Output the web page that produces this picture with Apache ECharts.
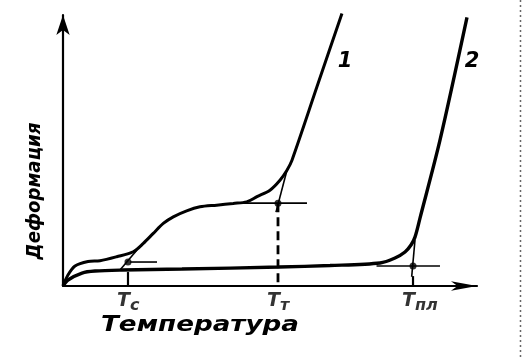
<!DOCTYPE html>
<html><head><meta charset="utf-8">
<script src="https://cdn.jsdelivr.net/npm/echarts@6/dist/echarts.min.js"></script>
<style>html,body{margin:0;padding:0;background:#fff}#c{width:522px;height:358px}</style>
</head><body><div id="c"></div>
<script>
// ---- data (arbitrary units: temperature 0..103, deformation 0..104) ----
const curve1 = [[0,0],[1.24,4.21],[2.99,7.66],[6.22,9.39],[9.2,9.69],[13.36,11.23],[17.49,13.14],[19.98,16.36],[22.46,20.19],[24.95,24.02],[27.44,26.55],[30.77,28.85],[34.08,30.38],[38.23,31.03],[42.36,31.69],[45.7,32.3],[48.26,34.29],[51.49,36.78],[53.98,40.61],[55.72,44.44],[56.97,48.28],[63.18,76.44],[69.4,104.6]];
const curve2 = [[0,0],[1.24,2.3],[4.73,4.98],[7.96,5.75],[14.68,6.13],[29.6,6.51],[53.73,7.28],[66.42,7.85],[78.87,8.81],[82.6,10.73],[85.09,13.03],[86.58,15.71],[87.57,18.77],[88.82,26.05],[93.79,55.94],[100.51,103.07]];
const curveNames = ['1', '2'];
const tickValues = [16.17, 53.49, 87.08];
const tickSubs = ['с', 'т', 'пл'];
const tickLevels = [9.2, 31.8, 7.66];
const levelSpans = [[16.67, 23.39], [44.04, 60.7], [78.0, 93.79]];
const tangentLines = [[[14.18, 6.13], [18.41, 13.8]], [[52.99, 28.35], [55.72, 44.44]], [[86.75, 3.56], [87.57, 17.62]]];
const tickFoot = [5.36, null, 3.8];
const xTitle = 'Температура';
const yTitle = 'Деформация';

const FONT = '"DejaVu Sans", sans-serif';
const chart = echarts.init(document.getElementById('c'), null, {renderer: 'canvas'});

function measure(text, font) {
  const c = document.createElement('canvas').getContext('2d');
  c.font = font;
  return c.measureText(text).width;
}

const series = [];
series.push({type: 'line', data: curve1, showSymbol: false, smooth: 0.3, clip: false, lineStyle: {color: '#000', width: 3}, z: 5});
series.push({type: 'line', data: curve2, showSymbol: false, smooth: 0.3, clip: false, lineStyle: {color: '#000', width: 3.4}, z: 5});
for (let i = 0; i < tickValues.length; i++) {
  series.push({type: 'line', data: [[levelSpans[i][0], tickLevels[i]], [levelSpans[i][1], tickLevels[i]]], showSymbol: false, clip: false, lineStyle: {color: '#000', width: 1.6}});
  series.push({type: 'line', data: tangentLines[i], showSymbol: false, clip: false, lineStyle: {color: '#000', width: 1.6}});
  if (tickFoot[i] === null) {
    series.push({type: 'line', data: [[tickValues[i], tickLevels[i]], [tickValues[i], 0]], showSymbol: false, clip: false, lineStyle: {color: '#000', width: 2.8, type: [9, 5]}});
  } else {
    series.push({type: 'line', data: [[tickValues[i], tickFoot[i]], [tickValues[i], 0]], showSymbol: false, clip: false, lineStyle: {color: '#000', width: 2.2}});
  }
}
series.push({type: 'scatter', data: tickValues.map((v, i) => [v, tickLevels[i]]), symbol: 'circle', symbolSize: 7, itemStyle: {color: '#000'}, z: 6});
series.push({
  type: 'scatter', data: tickValues.map((v, i) => ({value: [v, 0], sub: tickSubs[i]})), symbolSize: 0, silent: true,
  label: {
    show: true, position: 'inside', align: 'left', verticalAlign: 'top', offset: [-11, 6],
    formatter: p => '{t|T}{s|' + p.data.sub + '}',
    rich: {
      t: {fontFamily: FONT, fontStyle: 'italic', fontWeight: 'bold', fontSize: 19, color: '#000', lineHeight: 20, verticalAlign: 'top'},
      s: {fontFamily: FONT, fontStyle: 'italic', fontWeight: 'bold', fontSize: 16, color: '#000', lineHeight: 17, padding: [6, 0, 0, 0], verticalAlign: 'top'}
    }
  }
});

const xFont = 'italic bold 21px "DejaVu Sans"';
const yFont = 'italic bold 20px "DejaVu Sans"';
const xScale = 198 / measure(xTitle, xFont);
const yScale = 137 / measure(yTitle, yFont);

chart.setOption({
  animation: false,
  backgroundColor: '#fff',
  grid: {left: 63, right: 45, top: 15, bottom: 72},
  xAxis: {type: 'value', min: 0, max: 103, splitLine: {show: false}, axisTick: {show: false}, axisLabel: {show: false},
    axisLine: {lineStyle: {color: '#000', width: 2.2}, symbol: ['none', 'arrow'], symbolSize: [7, 26]}},
  yAxis: {type: 'value', min: 0, max: 104, splitLine: {show: false}, axisTick: {show: false}, axisLabel: {show: false},
    axisLine: {lineStyle: {color: '#000', width: 2.2}, symbol: ['none', 'arrow'], symbolSize: [10, 20]}},
  series: series,
  graphic: [
    {type: 'text', x: 101, y: 326, scaleX: xScale, style: {text: xTitle, font: xFont, fill: '#000', align: 'left', verticalAlign: 'middle'}},
    {type: 'text', x: 35, y: 191, rotation: Math.PI / 2, scaleX: yScale, style: {text: yTitle, font: yFont, fill: '#000', align: 'center', verticalAlign: 'middle'}},
    {type: 'text', x: 345, y: 62, style: {text: curveNames[0], font: 'italic bold 21px "DejaVu Sans"', fill: '#000', align: 'center', verticalAlign: 'middle'}},
    {type: 'text', x: 472, y: 62, style: {text: curveNames[1], font: 'italic bold 21px "DejaVu Sans"', fill: '#000', align: 'center', verticalAlign: 'middle'}},
    {type: 'line', shape: {x1: 520.5, y1: 0, x2: 520.5, y2: 358}, style: {stroke: '#666', lineWidth: 1.5, lineDash: [2, 3]}}
  ]
});
</script></body></html>
